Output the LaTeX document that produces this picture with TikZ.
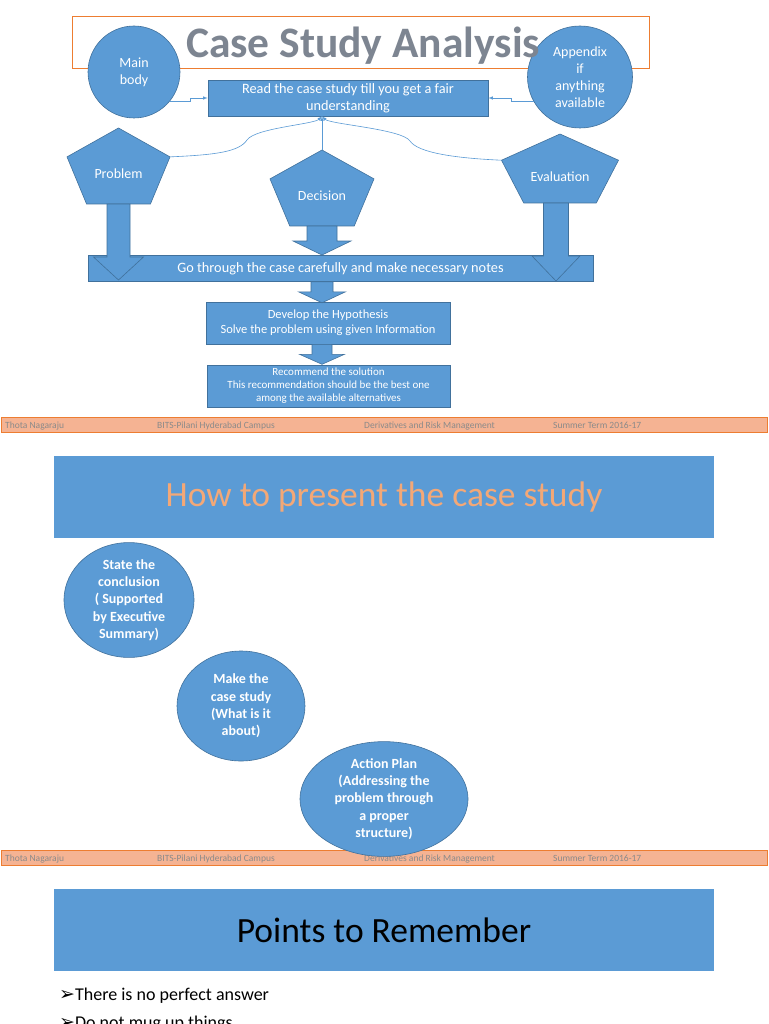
\documentclass[tikz,border=0pt]{standalone}
\usepackage{fontspec}
\setmainfont{Carlito}
\newfontfamily\symfont{DejaVu Sans}
\usepackage{tikz}
\usetikzlibrary{positioning,shapes.geometric,calc}

\definecolor{slideblue}{HTML}{5B9BD5}
\definecolor{slideedge}{HTML}{41719C}
\definecolor{footfill}{HTML}{F5B393}
\definecolor{footedge}{HTML}{ED7D31}
\definecolor{footgrey}{HTML}{8A8A8A}
\definecolor{titlegrey}{HTML}{7D8591}
\definecolor{headorange}{HTML}{F3A877}

\tikzset{
  pics/pentagon/.style 2 args={code={
    \filldraw[blueshape] (0,-#2/2) -- (#1/2,-0.12*#2) -- (0.31*#1,#2/2) -- (-0.31*#1,#2/2) -- (-#1/2,-0.12*#2) -- cycle;
    \coordinate (-t) at (0,-#2/2);
    \coordinate (-l) at (-#1/2,-0.12*#2);
    \coordinate (-r) at (#1/2,-0.12*#2);
    \coordinate (-s) at (0,#2/2);
  }},
  pics/blockdown/.style n args={4}{code={
    \filldraw[blueshape] (-#1,0) -- (#1,0) -- (#1,#3) -- (#2,#3) -- (0,#4) -- (-#2,#3) -- (-#1,#3) -- cycle;
  }}
}

\begin{document}
\begin{tikzpicture}[x=1pt, y=-1pt, >=latex,
    blueshape/.style={fill=slideblue, draw=slideedge, line width=0.6pt},
    bubble/.style={blueshape, circle, inner sep=0pt, align=center, text=white, font=\fontsize{14}{17}\selectfont},
    oval/.style={bubble, ellipse, font=\bfseries\fontsize{14}{17.3}\selectfont},
    bluebox/.style={blueshape, rectangle, inner sep=0pt, align=center, text=white},
    pentlabel/.style={text=white, inner sep=0pt, font=\fontsize{14}{17}\selectfont},
    thinlink/.style={draw=slideblue, line width=0.6pt},
    headbox/.style={fill=slideblue, minimum width=660pt, minimum height=82pt, inner sep=0pt, font=\fontsize{35.5}{40}\selectfont},
    footbar/.style={fill=footfill, draw=footedge, line width=0.8pt, minimum width=766pt, minimum height=15pt, inner sep=0pt},
    foottext/.style={anchor=base west, text=footgrey, inner sep=0pt, font=\fontsize{9.5}{10}\selectfont},
    point/.style={anchor=base west, inner sep=0pt, font=\fontsize{18}{20}\selectfont}]
    \useasboundingbox (0,0) rectangle (768,1024);
    \fill[white] (0,0) rectangle (768,1024);

    % first slide: title frame and side circles
    \node[draw=footedge, line width=0.6pt, minimum width=577pt, minimum height=52pt] (titlebox) at (360.5,42) {};
    \node[bubble, minimum size=92pt] (main) at (134,72) {Main\\body};
    \node[bubble, ellipse, minimum width=105pt, minimum height=102pt] (app) at (580,77) {Appendix\\if\\anything\\available};
    \node[anchor=base, inner sep=0pt, text=titlegrey, font=\bfseries\fontsize{43.5}{46}\selectfont] (title) at (363,58) {Case Study Analysis};

    \node[bluebox, minimum width=280pt, minimum height=36pt, font=\fontsize{14.3}{17}\selectfont] (read) at (348,98) {Read the case study till you get a fair\\understanding};
    \draw[thinlink, ->] (main.-39) -- ++(20,0) |- (read.west);
    \draw[thinlink, ->] (app.208) -- ++(-22,0) |- (read.east);

    % the three pentagons
    \pic (probshape) at (118.5,166) {pentagon={103}{76}};
    \pic (decshape) at (322,188) {pentagon={104}{76}};
    \pic (evalshape) at (560,168.5) {pentagon={117}{69}};
    \node[pentlabel] (prob) at ($(probshape-s)+(0,-30)$) {Problem};
    \node[pentlabel] (dec) at ($(decshape-s)+(0,-30)$) {Decision};
    \node[pentlabel] (eval) at ($(evalshape-s)+(0,-26)$) {Evaluation};

    \draw[thinlink, ->] (probshape-r) .. controls +(45,-2) and +(-8,12) .. (247,140) .. controls +(8,-12) and +(-8,8) .. (decshape-t |- read.south);
    \draw[thinlink, ->] (evalshape-l) .. controls +(-45,-2) and +(8,12) .. (410,141) .. controls +(-8,-12) and +(8,8) .. (decshape-t |- read.south);
    \draw[thinlink, ->] (decshape-t) -- (decshape-t |- read.south);

    % notes bar and the steps below it
    \node[bluebox, minimum width=505pt, minimum height=26pt, font=\fontsize{14.3}{17}\selectfont] (notes) at (340.5,268.5) {Go through the case carefully and make necessary notes};
    \pic at (probshape-s) {blockdown={11.5}{25}{53}{76}};
    \pic at ([xshift=-4pt]evalshape-s) {blockdown={12.5}{24}{53}{78}};
    \pic at (decshape-s) {blockdown={15}{29}{15}{29}};

    \node[bluebox, minimum width=244pt, minimum height=42pt, font=\fontsize{12.5}{15}\selectfont] (dev) at (328,323) {Develop the Hypothesis\\Solve the problem using given Information};
    \node[bluebox, minimum width=243pt, minimum height=42pt, font=\fontsize{11}{13}\selectfont] (rec) at (328.5,386) {Recommend the solution\\This recommendation should be the best one\\among the available alternatives};
    \pic at (decshape-s |- notes.south) {blockdown={11}{23.5}{10}{21}};
    \pic at (decshape-s |- dev.south) {blockdown={10}{22.5}{10}{20}};

    % footers
    \foreach \fy/\fn in {428/a, 861/b} {
        \node[footbar] (foot\fn) at (384,\fy-3.5) {};
        \node[foottext] (author\fn) at (5,\fy) {Thota Nagaraju};
        \node[foottext] (campus\fn) at (157,\fy) {BITS-Pilani Hyderabad Campus};
        \node[foottext] (course\fn) at (364,\fy) {Derivatives and Risk Management};
        \node[foottext] (term\fn) at (553,\fy) {Summer Term 2016-17};
    }

    % second slide
    \node[headbox, text=headorange] (howhead) at (384,497) {How to present the case study};
    \node[oval, minimum width=130pt, minimum height=104pt] (state) at (129,600) {State the\\conclusion\\( Supported\\by Executive\\Summary)};
    \node[oval, minimum width=128pt, minimum height=110pt] (make) at (241,706) {Make the\\case study\\(What is it\\about)};
    \node[oval, minimum width=168pt, minimum height=98pt] (action) at (384,799) {Action Plan\\(Addressing the\\problem through\\a proper\\structure)};

    % third slide
    \node[headbox, text=black] (pointshead) at (384,930) {Points to Remember};
    \node[point] (pt1) at (59,1000) {{\symfont\fontsize{19}{20}\selectfont ➢}There is no perfect answer};
    \node[point] (pt2) at (59,1028) {{\symfont\fontsize{19}{20}\selectfont ➢}Do not mug up things};
\end{tikzpicture}
\end{document}
